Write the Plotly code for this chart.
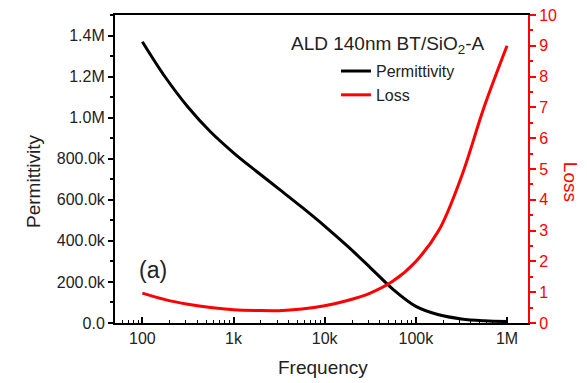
import plotly.graph_objects as go

freq = [100, 178, 316, 562, 1e3, 1.78e3, 3.16e3, 5.62e3, 1e4, 1.78e4, 3.16e4, 5.62e4,
        1e5, 1.78e5, 3.16e5, 5.62e5, 1e6]
permittivity = [1.370e6, 1.198e6, 1.052e6, 930e3, 829e3, 739e3, 652e3, 564e3, 472e3, 374e3, 270e3, 164e3,
                81e3, 40e3, 20e3, 11e3, 7e3]
loss = [0.97, 0.76, 0.61, 0.50, 0.43, 0.405, 0.40, 0.455, 0.56, 0.73, 0.97, 1.36,
        2.0, 3.0, 4.75, 7.02, 9.0]

x_tickvals = [100, 1e3, 1e4, 1e5, 1e6]
x_ticktext = ["100", "1k", "10k", "100k", "1M"]
x_minorvals = [m * d for d in (10, 100, 1e3, 1e4, 1e5) for m in range(2, 10)]
y_tickvals = [0, 200e3, 400e3, 600e3, 800e3, 1.0e6, 1.2e6, 1.4e6]
y_ticktext = ["0.0", "200.0k", "400.0k", "600.0k", "800.0k", "1.0M", "1.2M", "1.4M"]
y2_tickvals = list(range(0, 11))

FONT = "Liberation Sans, Arial, sans-serif"
RED = "#ff0000"
TXT = "#222"

fig = go.Figure()
fig.add_trace(go.Scatter(x=freq, y=permittivity, name="Permittivity", mode="lines",
                         line=dict(color="black", width=3, shape="spline", smoothing=1.0)))
fig.add_trace(go.Scatter(x=freq, y=loss, name="Loss", mode="lines", yaxis="y2",
                         line=dict(color=RED, width=3, shape="spline", smoothing=1.0)))

fig.update_layout(
    width=587, height=383,
    margin=dict(l=115, r=59, t=15, b=60, autoexpand=False),
    paper_bgcolor="white", plot_bgcolor="white",
    font=dict(family=FONT, size=16, color=TXT),
    xaxis=dict(type="log", range=[1.7, 6.23], tickvals=x_tickvals, ticktext=x_ticktext,
               ticks="inside", ticklen=6, tickwidth=1.5, tickcolor="black",
               minor=dict(tickvals=x_minorvals, ticks="inside", ticklen=3, tickcolor="black", tickwidth=1),
               showline=True, linecolor="black", linewidth=2, mirror=True,
               showgrid=False, zeroline=False, automargin=False,
               tickfont=dict(size=16, color=TXT)),
    yaxis=dict(range=[0, 1.5e6], tickvals=y_tickvals, ticktext=y_ticktext,
               ticks="outside", ticklen=5, tickwidth=1.5, tickcolor="black",
               minor=dict(ticks="outside", ticklen=3, tickcolor="black", dtick=100e3),
               showline=True, linecolor="black", linewidth=2,
               showgrid=False, zeroline=False, automargin=False,
               tickfont=dict(size=16, color=TXT)),
    yaxis2=dict(overlaying="y", side="right", range=[0, 10], tickvals=y2_tickvals,
                ticks="outside", ticklen=6, tickwidth=1.5, tickcolor=RED,
                minor=dict(ticks="outside", ticklen=3, tickcolor=RED, dtick=0.5),
                showline=True, linecolor=RED, linewidth=2,
                tickfont=dict(color=RED, size=16),
                showgrid=False, zeroline=False, automargin=False),
    legend=dict(x=0.535, y=0.873, xanchor="left", yanchor="top",
                bgcolor="rgba(0,0,0,0)", font=dict(size=16, color=TXT),
                tracegroupgap=0),
    showlegend=True,
    annotations=[
        dict(text="ALD 140nm BT/SiO<sub>2</sub>-A", xref="paper", yref="paper",
             x=0.90, y=0.903, xanchor="right", yanchor="middle", showarrow=False,
             font=dict(size=19, color=TXT)),
        dict(text="(a)", xref="paper", yref="paper", x=0.053, y=0.172,
             xanchor="left", yanchor="middle", showarrow=False,
             font=dict(size=23, color=TXT)),
        dict(text="Frequency", xref="paper", yref="paper", x=0.504, y=-0.146,
             xanchor="center", yanchor="middle", showarrow=False,
             font=dict(size=19, color=TXT)),
        dict(text="Permittivity", xref="paper", yref="paper", x=-0.196, y=0.458,
             xanchor="center", yanchor="middle", showarrow=False, textangle=-90,
             font=dict(size=19, color=TXT)),
        dict(text="Loss", xref="paper", yref="paper", x=1.102, y=0.458,
             xanchor="center", yanchor="middle", showarrow=False, textangle=90,
             font=dict(size=19, color=RED)),
    ],
)

fig.write_html("out.html", config={"displayModeBar": False},
               post_script="document.body.style.margin='0';")
